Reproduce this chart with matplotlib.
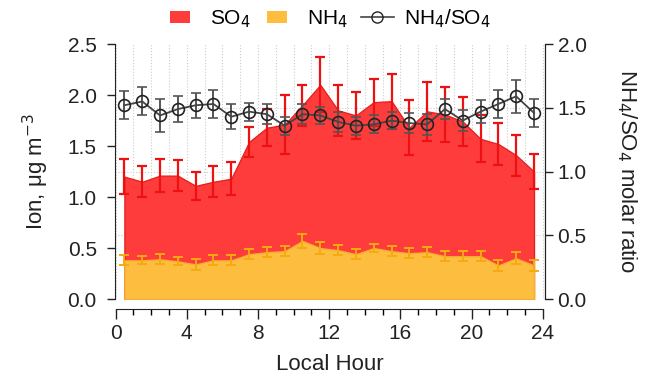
import numpy as np
import matplotlib.pyplot as plt
from matplotlib.patches import Patch, Rectangle
from matplotlib.lines import Line2D
from matplotlib.legend_handler import HandlerPatch
from matplotlib.ticker import MultipleLocator, FixedLocator

plt.rcParams['font.family'] = ['Liberation Sans', 'DejaVu Sans']

# godziny (srodek przedzialu)
hours = np.arange(24) + 0.5

so4 = [1.20, 1.15, 1.21, 1.21, 1.11, 1.15, 1.18, 1.54, 1.68, 1.71, 1.90, 2.10,
       1.85, 1.80, 1.93, 1.94, 1.68, 1.84, 1.81, 1.74, 1.57, 1.52, 1.41, 1.25]
so4_err = [0.17, 0.15, 0.16, 0.15, 0.14, 0.15, 0.16, 0.15, 0.18, 0.29, 0.20, 0.27,
           0.25, 0.23, 0.23, 0.27, 0.27, 0.29, 0.27, 0.24, 0.23, 0.21, 0.20, 0.17]

nh4 = [0.38, 0.38, 0.39, 0.37, 0.34, 0.38, 0.38, 0.44, 0.46, 0.47, 0.57, 0.50,
       0.48, 0.44, 0.50, 0.47, 0.45, 0.46, 0.42, 0.42, 0.42, 0.33, 0.40, 0.33]
nh4_err = [0.05, 0.04, 0.05, 0.04, 0.05, 0.05, 0.05, 0.05, 0.05, 0.05, 0.07, 0.06,
           0.05, 0.05, 0.04, 0.05, 0.05, 0.05, 0.05, 0.05, 0.05, 0.05, 0.06, 0.05]

ratio = [1.52, 1.55, 1.44, 1.49, 1.52, 1.53, 1.43, 1.47, 1.45, 1.36, 1.45, 1.44,
         1.39, 1.36, 1.37, 1.40, 1.38, 1.37, 1.49, 1.40, 1.47, 1.53, 1.59, 1.46]
ratio_err = [0.11, 0.11, 0.13, 0.10, 0.10, 0.11, 0.10, 0.07, 0.08, 0.07, 0.08, 0.07,
             0.08, 0.07, 0.07, 0.07, 0.08, 0.08, 0.08, 0.08, 0.09, 0.11, 0.13, 0.11]

red_fill = '#FF3C3C'
red_bar = '#EE1111'
orange_fill = '#FDBD3E'
orange_bar = '#F5AA10'
gray = '#444444'
ink = '#222222'

fig = plt.figure(figsize=(6.45, 3.83), dpi=100)
ax = fig.add_axes([0.178, 0.219, 0.667, 0.666])

ax.fill_between(hours, 0, so4, color=red_fill, edgecolor='#E82020', lw=1.0, zorder=2)
ax.fill_between(hours, 0, nh4, color=orange_fill, edgecolor='#F5B030', lw=1.0, zorder=3)
ax.errorbar(hours, so4, yerr=so4_err, fmt='none', ecolor=red_bar, elinewidth=1.6,
            capsize=3.8, capthick=1.6, zorder=4)
ax.errorbar(hours, nh4, yerr=nh4_err, fmt='none', ecolor=orange_bar, elinewidth=1.4,
            capsize=3.8, capthick=1.4, zorder=5)

ax.set_xlim(-0.04, 24.12)
ax.set_ylim(0, 2.5)
ax.xaxis.set_major_locator(MultipleLocator(4))
ax.xaxis.set_minor_locator(MultipleLocator(1))
ax.yaxis.set_major_locator(MultipleLocator(0.5))
ax.yaxis.set_minor_locator(FixedLocator([0.625, 1.25, 1.875, 2.5]))
ax.set_axisbelow(True)
ax.grid(axis='x', which='both', color='#CCCCCC', linestyle=':', lw=0.8)
ax.grid(axis='y', which='minor', color='#CCCCCC', linestyle=':', lw=0.8)
ax.tick_params(axis='y', which='minor', length=0)
ax.tick_params(axis='y', which='major', direction='out', length=6, width=1.0, pad=7,
               labelsize=15, colors=ink)
ax.tick_params(axis='x', which='major', direction='out', length=7, width=1.0, pad=4,
               labelsize=15, colors=ink)
ax.tick_params(axis='x', which='minor', direction='out', length=4, width=1.0)
ax.yaxis.set_major_formatter(plt.FormatStrFormatter('%.1f'))

ax.spines['top'].set_visible(False)
ax.spines['bottom'].set_position(('outward', 7))
ax.spines['bottom'].set_bounds(0, 24)
for s in ['left', 'bottom', 'right']:
    ax.spines[s].set_color(ink)

ax.set_xlabel('Local Hour', fontsize=16, color=ink)
ax.xaxis.set_label_coords(0.5, -0.215)
ax.set_ylabel('Ion, μg m$^{-3}$', fontsize=16, color=ink, va='center')
ax.yaxis.set_label_coords(-0.183, 0.5)

ax2 = ax.twinx()
ax2.errorbar(hours, ratio, yerr=ratio_err, fmt='o-', color=gray, ecolor='#555555',
             mfc='none', mec=ink, ms=8.5, mew=1.2, lw=1.3, elinewidth=1.4,
             capsize=3.8, capthick=1.4, zorder=6)
ax2.set_ylim(0, 2.0)
ax2.yaxis.set_major_locator(MultipleLocator(0.5))
ax2.yaxis.set_major_formatter(plt.FormatStrFormatter('%.1f'))
ax2.tick_params(axis='y', direction='out', length=6, width=1.0, pad=3,
                labelsize=15, colors=ink)
ax2.spines['top'].set_visible(False)
ax2.spines['bottom'].set_visible(False)
ax2.spines['left'].set_visible(False)
ax2.spines['right'].set_color(ink)
ax2.set_ylabel('NH$_4$/SO$_4$ molar ratio', fontsize=16, color=ink,
               rotation=-90, va='center', ha='center')
ax2.yaxis.set_label_coords(1.19, 0.5)


def small_box(legend, orig_handle, xdescent, ydescent, width, height, fontsize):
    return Rectangle((-xdescent + 0.1 * width, -ydescent + 0.05 * height),
                     0.6 * width, 0.9 * height)


handles = [Patch(facecolor=red_fill, edgecolor='none'),
           Patch(facecolor=orange_fill, edgecolor='none'),
           Line2D([], [], color=gray, marker='o', mfc='none', mec=ink, ms=8, lw=1.2)]
fig.legend(handles, ['SO$_4$', 'NH$_4$', 'NH$_4$/SO$_4$'], loc='center',
           bbox_to_anchor=(0.51, 0.952), ncol=3, frameon=False, fontsize=15,
           handlelength=1.6, handleheight=0.6, columnspacing=0.6, handletextpad=0.5,
           handler_map={Patch: HandlerPatch(patch_func=small_box)})

fig.savefig('out.png', dpi=100)
